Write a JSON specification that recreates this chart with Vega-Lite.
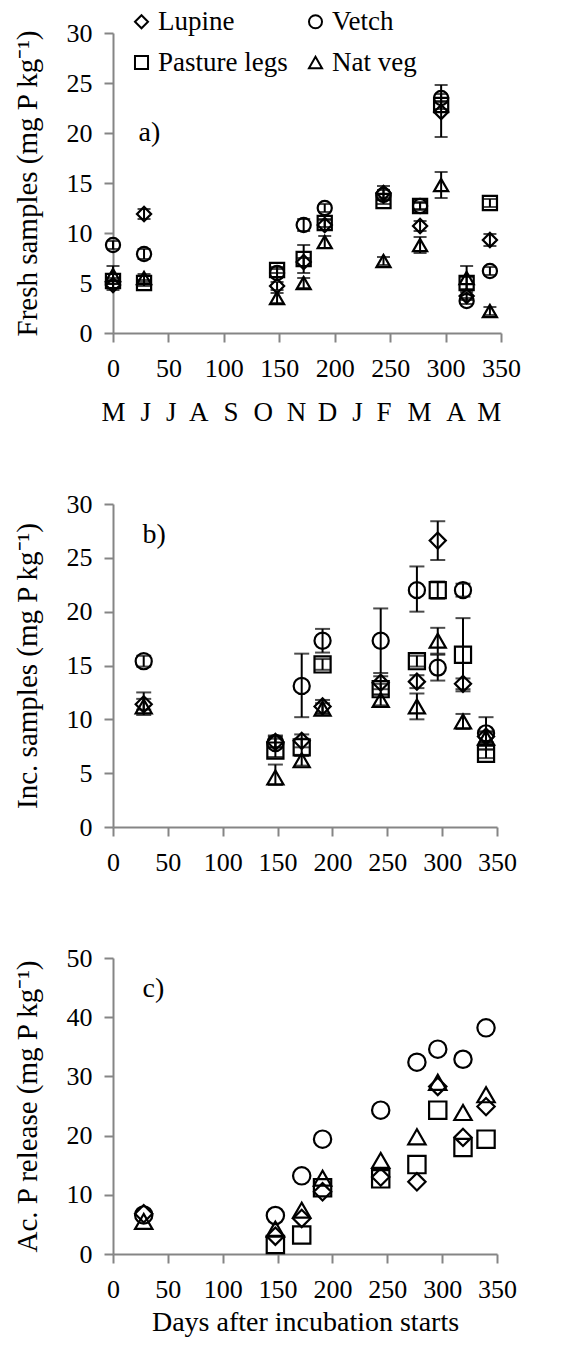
{
  "$schema": "https://vega.github.io/schema/vega-lite/v6.json",
  "background": "white",
  "padding": {"left": 12, "top": 8, "right": 8, "bottom": 8},
  "config": {
    "font": "Liberation Serif",
    "view": {"stroke": null},
    "axis": {
      "grid": false,
      "domainColor": "#858585",
      "domainWidth": 2,
      "tickColor": "#858585",
      "tickWidth": 2,
      "tickSize": 9,
      "labelFont": "Liberation Serif",
      "labelFontSize": 26,
      "labelColor": "black",
      "labelPadding": 10,
      "labelFlush": false,
      "labelOverlap": false,
      "titleFont": "Liberation Serif",
      "titleFontSize": 28,
      "titleFontWeight": "normal",
      "titleColor": "black"
    },
    "axisX": {"labelPadding": 13, "labelFont": "Liberation Serif"},
    "axisY": {"titlePadding": 24, "labelFont": "Liberation Serif", "labelPadding": 12, "titleFontSize": 29}
  },
  "datasets": {
    "a": [
      {"day": 0, "t": "Lupine", "v": 4.8, "lo": 4.3, "hi": 5.3},
      {"day": 0, "t": "Vetch", "v": 8.8, "lo": 8.4, "hi": 9.2},
      {"day": 0, "t": "Pasture legs", "v": 5.2, "lo": 4.9, "hi": 5.5},
      {"day": 0, "t": "Nat veg", "v": 5.8, "lo": 4.9, "hi": 6.7},
      {"day": 28, "t": "Lupine", "v": 11.9, "lo": 11.4, "hi": 12.4},
      {"day": 28, "t": "Vetch", "v": 7.9, "lo": 7.4, "hi": 8.4},
      {"day": 28, "t": "Pasture legs", "v": 5.0, "lo": 4.7, "hi": 5.3},
      {"day": 28, "t": "Nat veg", "v": 5.5, "lo": 5.1, "hi": 5.9},
      {"day": 148, "t": "Lupine", "v": 4.7, "lo": 4.3, "hi": 5.1},
      {"day": 148, "t": "Vetch", "v": 6.0, "lo": 5.6, "hi": 6.4},
      {"day": 148, "t": "Pasture legs", "v": 6.3, "lo": 6.0, "hi": 6.6},
      {"day": 148, "t": "Nat veg", "v": 3.5, "lo": 3.0, "hi": 4.0},
      {"day": 172, "t": "Lupine", "v": 7.1, "lo": 6.7, "hi": 7.5},
      {"day": 172, "t": "Vetch", "v": 10.8, "lo": 10.2, "hi": 11.4},
      {"day": 172, "t": "Pasture legs", "v": 7.4, "lo": 6.0, "hi": 8.8},
      {"day": 172, "t": "Nat veg", "v": 5.0, "lo": 4.5, "hi": 5.5},
      {"day": 191, "t": "Lupine", "v": 10.8, "lo": 10.3, "hi": 11.3},
      {"day": 191, "t": "Vetch", "v": 12.5, "lo": 12.1, "hi": 12.9},
      {"day": 191, "t": "Pasture legs", "v": 11.0, "lo": 10.6, "hi": 11.4},
      {"day": 191, "t": "Nat veg", "v": 9.1, "lo": 8.5, "hi": 9.7},
      {"day": 244, "t": "Lupine", "v": 14.0, "lo": 13.3, "hi": 14.7},
      {"day": 244, "t": "Vetch", "v": 13.8, "lo": 13.3, "hi": 14.3},
      {"day": 244, "t": "Pasture legs", "v": 13.2, "lo": 12.9, "hi": 13.5},
      {"day": 244, "t": "Nat veg", "v": 7.2, "lo": 6.8, "hi": 7.6},
      {"day": 277, "t": "Lupine", "v": 10.7, "lo": 10.2, "hi": 11.2},
      {"day": 277, "t": "Vetch", "v": 12.7, "lo": 12.3, "hi": 13.1},
      {"day": 277, "t": "Pasture legs", "v": 12.7, "lo": 12.4, "hi": 13.0},
      {"day": 277, "t": "Nat veg", "v": 8.8, "lo": 8.0, "hi": 9.6},
      {"day": 296, "t": "Lupine", "v": 22.1, "lo": 19.6, "hi": 24.8},
      {"day": 296, "t": "Vetch", "v": 23.5, "lo": 23.1, "hi": 23.9},
      {"day": 296, "t": "Pasture legs", "v": 22.8, "lo": 22.4, "hi": 23.2},
      {"day": 296, "t": "Nat veg", "v": 14.8, "lo": 13.5, "hi": 16.1},
      {"day": 319, "t": "Lupine", "v": 3.7, "lo": 3.3, "hi": 4.1},
      {"day": 319, "t": "Vetch", "v": 3.2, "lo": 2.9, "hi": 3.5},
      {"day": 319, "t": "Pasture legs", "v": 5.0, "lo": 4.4, "hi": 5.6},
      {"day": 319, "t": "Nat veg", "v": 5.5, "lo": 4.3, "hi": 6.7},
      {"day": 340, "t": "Lupine", "v": 9.3, "lo": 8.7, "hi": 9.9},
      {"day": 340, "t": "Vetch", "v": 6.2, "lo": 5.8, "hi": 6.6},
      {"day": 340, "t": "Pasture legs", "v": 13.0, "lo": 12.6, "hi": 13.4},
      {"day": 340, "t": "Nat veg", "v": 2.2, "lo": 1.8, "hi": 2.6}
    ],
    "b": [
      {"day": 28, "t": "Lupine", "v": 11.4, "lo": 10.9, "hi": 11.9},
      {"day": 28, "t": "Vetch", "v": 15.4, "lo": 14.9, "hi": 15.9},
      {"day": 28, "t": "Nat veg", "v": 11.2, "lo": 10.4, "hi": 12.5},
      {"day": 148, "t": "Lupine", "v": 7.9, "lo": 7.4, "hi": 8.4},
      {"day": 148, "t": "Vetch", "v": 7.8, "lo": 7.4, "hi": 8.2},
      {"day": 148, "t": "Pasture legs", "v": 7.1, "lo": 6.5, "hi": 8.5},
      {"day": 148, "t": "Nat veg", "v": 4.6, "lo": 3.9, "hi": 5.8},
      {"day": 172, "t": "Lupine", "v": 8.0, "lo": 7.4, "hi": 8.6},
      {"day": 172, "t": "Vetch", "v": 13.1, "lo": 10.2, "hi": 16.1},
      {"day": 172, "t": "Pasture legs", "v": 7.4, "lo": 6.6, "hi": 8.2},
      {"day": 172, "t": "Nat veg", "v": 6.2, "lo": 5.7, "hi": 6.7},
      {"day": 191, "t": "Lupine", "v": 11.2, "lo": 10.6, "hi": 11.8},
      {"day": 191, "t": "Vetch", "v": 17.3, "lo": 16.2, "hi": 18.4},
      {"day": 191, "t": "Pasture legs", "v": 15.1, "lo": 14.6, "hi": 15.6},
      {"day": 191, "t": "Nat veg", "v": 11.0, "lo": 10.5, "hi": 11.5},
      {"day": 244, "t": "Lupine", "v": 13.4, "lo": 12.8, "hi": 14.0},
      {"day": 244, "t": "Vetch", "v": 17.3, "lo": 14.3, "hi": 20.3},
      {"day": 244, "t": "Pasture legs", "v": 12.8, "lo": 12.3, "hi": 13.3},
      {"day": 244, "t": "Nat veg", "v": 11.8, "lo": 11.3, "hi": 12.3},
      {"day": 277, "t": "Lupine", "v": 13.5, "lo": 12.9, "hi": 14.1},
      {"day": 277, "t": "Vetch", "v": 22.0, "lo": 20.0, "hi": 24.2},
      {"day": 277, "t": "Pasture legs", "v": 15.4, "lo": 14.9, "hi": 15.9},
      {"day": 277, "t": "Nat veg", "v": 11.2, "lo": 10.0, "hi": 12.4},
      {"day": 296, "t": "Lupine", "v": 26.6, "lo": 24.8, "hi": 28.4},
      {"day": 296, "t": "Vetch", "v": 14.8, "lo": 13.6, "hi": 16.0},
      {"day": 296, "t": "Pasture legs", "v": 22.0, "lo": 21.2, "hi": 22.8},
      {"day": 296, "t": "Nat veg", "v": 17.3, "lo": 16.1, "hi": 18.5},
      {"day": 319, "t": "Lupine", "v": 13.3, "lo": 12.8, "hi": 13.8},
      {"day": 319, "t": "Vetch", "v": 22.0, "lo": 21.4, "hi": 22.6},
      {"day": 319, "t": "Pasture legs", "v": 16.0, "lo": 12.6, "hi": 19.4},
      {"day": 319, "t": "Nat veg", "v": 9.8, "lo": 9.1, "hi": 10.5},
      {"day": 340, "t": "Lupine", "v": 8.4, "lo": 7.9, "hi": 8.9},
      {"day": 340, "t": "Vetch", "v": 8.7, "lo": 7.2, "hi": 10.2},
      {"day": 340, "t": "Pasture legs", "v": 6.8, "lo": 6.4, "hi": 7.2},
      {"day": 340, "t": "Nat veg", "v": 8.3, "lo": 7.8, "hi": 8.8}
    ],
    "c": [
      {"day": 28, "t": "Lupine", "v": 6.8},
      {"day": 28, "t": "Vetch", "v": 6.6},
      {"day": 28, "t": "Nat veg", "v": 5.5},
      {"day": 148, "t": "Lupine", "v": 3.0},
      {"day": 148, "t": "Vetch", "v": 6.5},
      {"day": 148, "t": "Pasture legs", "v": 1.6},
      {"day": 148, "t": "Nat veg", "v": 4.2},
      {"day": 172, "t": "Lupine", "v": 6.0},
      {"day": 172, "t": "Vetch", "v": 13.2},
      {"day": 172, "t": "Pasture legs", "v": 3.2},
      {"day": 172, "t": "Nat veg", "v": 7.4},
      {"day": 191, "t": "Lupine", "v": 10.5},
      {"day": 191, "t": "Vetch", "v": 19.4},
      {"day": 191, "t": "Pasture legs", "v": 11.2},
      {"day": 191, "t": "Nat veg", "v": 12.8},
      {"day": 244, "t": "Lupine", "v": 13.0},
      {"day": 244, "t": "Vetch", "v": 24.3},
      {"day": 244, "t": "Pasture legs", "v": 12.7},
      {"day": 244, "t": "Nat veg", "v": 15.8},
      {"day": 277, "t": "Lupine", "v": 12.2},
      {"day": 277, "t": "Vetch", "v": 32.4},
      {"day": 277, "t": "Pasture legs", "v": 15.1},
      {"day": 277, "t": "Nat veg", "v": 19.8},
      {"day": 296, "t": "Lupine", "v": 28.3},
      {"day": 296, "t": "Vetch", "v": 34.6},
      {"day": 296, "t": "Pasture legs", "v": 24.3},
      {"day": 296, "t": "Nat veg", "v": 29.0},
      {"day": 319, "t": "Lupine", "v": 19.7},
      {"day": 319, "t": "Vetch", "v": 32.9},
      {"day": 319, "t": "Pasture legs", "v": 18.0},
      {"day": 319, "t": "Nat veg", "v": 23.9},
      {"day": 340, "t": "Lupine", "v": 24.9},
      {"day": 340, "t": "Vetch", "v": 38.2},
      {"day": 340, "t": "Pasture legs", "v": 19.4},
      {"day": 340, "t": "Nat veg", "v": 26.9}
    ],
    "months": [
      {"day": 0, "m": "M"}, {"day": 29, "m": "J"}, {"day": 52, "m": "J"},
      {"day": 77, "m": "A"}, {"day": 106, "m": "S"}, {"day": 135, "m": "O"},
      {"day": 165, "m": "N"}, {"day": 193, "m": "D"}, {"day": 220, "m": "J"},
      {"day": 244, "m": "F"}, {"day": 276, "m": "M"}, {"day": 309, "m": "A"},
      {"day": 339, "m": "M"}
    ]
  },
  "resolve": {"scale": {"shape": "independent"}},
  "bounds": "flush",
  "spacing": 171,
  "vconcat": [
    {
      "width": 388,
      "height": 300,
      "resolve": {"axis": {"x": "independent"}},
      "layer": [
        {
          "layer": [
            {
              "data": {"name": "a"},
              "mark": {"type": "rule", "color": "black", "strokeWidth": 2},
              "encoding": {
                "x": {"field": "day", "type": "quantitative", "scale": {"domain": [0, 350], "nice": false},
                  "axis": {"orient": "bottom", "title": null, "values": [0, 50, 100, 150, 200, 250, 300, 350]}},
                "y": {"field": "lo", "type": "quantitative", "scale": {"domain": [0, 30], "nice": false},
                  "axis": {"title": "Fresh samples (mg P kg⁻¹)", "values": [0, 5, 10, 15, 20, 25, 30]}},
                "y2": {"field": "hi"}
              }
            },
            {
              "data": {"name": "a"},
              "mark": {"type": "tick", "orient": "horizontal", "color": "black", "thickness": 2, "size": 13},
              "encoding": {
                "x": {"field": "day", "type": "quantitative"},
                "y": {"field": "lo", "type": "quantitative"}
              }
            },
            {
              "data": {"name": "a"},
              "mark": {"type": "tick", "orient": "horizontal", "color": "black", "thickness": 2, "size": 13},
              "encoding": {
                "x": {"field": "day", "type": "quantitative"},
                "y": {"field": "hi", "type": "quantitative"}
              }
            },
            {
              "data": {"name": "a"},
              "mark": {"type": "point", "filled": false, "color": "black", "strokeWidth": 2.2, "size": 200, "opacity": 1},
              "encoding": {
                "x": {"field": "day", "type": "quantitative"},
                "y": {"field": "v", "type": "quantitative"},
                "shape": {"field": "t", "type": "nominal",
                  "scale": {"domain": ["Lupine", "Vetch", "Pasture legs", "Nat veg"], "range": ["diamond", "circle", "square", "triangle-up"]},
                  "legend": {"orient": "none", "legendX": 15, "legendY": -25, "columns": 2, "direction": "horizontal",
                    "title": null, "labelFont": "Liberation Serif", "labelFontSize": 27, "labelColor": "black",
                    "symbolSize": 170, "symbolStrokeWidth": 2, "symbolStrokeColor": "black", "symbolFillColor": "transparent",
                    "columnPadding": 14, "rowPadding": 13, "labelOffset": 3}}
              }
            },
            {
              "data": {"values": [{"label": "a)"}]},
              "mark": {"type": "text", "align": "left", "baseline": "middle", "fontSize": 28, "font": "Liberation Serif", "color": "black"},
              "encoding": {"x": {"datum": 23}, "y": {"datum": 20}, "text": {"field": "label"}}
            }
          ]
        },
        {
          "data": {"name": "months"},
          "mark": {"type": "point", "opacity": 0},
          "encoding": {
            "x": {"field": "day", "type": "quantitative",
              "axis": {"orient": "bottom", "title": null, "domain": false, "ticks": false, "tickSize": 0,
                "values": [0, 29, 52, 77, 106, 135, 165, 193, 220, 244, 276, 309, 339],
                "labelExpr": "['M','J','J','A','S','O','N','D','J','F','M','A','M'][indexof([0,29,52,77,106,135,165,193,220,244,276,309,339], datum.value)]",
                "labelPadding": 66, "labelFontSize": 27}}
          }
        }
      ]
    },
    {
      "bounds": "flush",
      "spacing": 131,
      "vconcat": [
        {
          "width": 384,
          "height": 323,
          "layer": [
            {
              "data": {"name": "b"},
              "mark": {"type": "rule", "color": "black", "strokeWidth": 2},
              "encoding": {
                "x": {"field": "day", "type": "quantitative", "scale": {"domain": [0, 350], "nice": false},
                  "axis": {"title": null, "values": [0, 50, 100, 150, 200, 250, 300, 350]}},
                "y": {"field": "lo", "type": "quantitative", "scale": {"domain": [0, 30], "nice": false},
                  "axis": {"title": "Inc. samples (mg P kg⁻¹)", "values": [0, 5, 10, 15, 20, 25, 30]}},
                "y2": {"field": "hi"}
              }
            },
            {
              "data": {"name": "b"},
              "mark": {"type": "tick", "orient": "horizontal", "color": "black", "thickness": 2, "size": 15},
              "encoding": {
                "x": {"field": "day", "type": "quantitative"},
                "y": {"field": "lo", "type": "quantitative"}
              }
            },
            {
              "data": {"name": "b"},
              "mark": {"type": "tick", "orient": "horizontal", "color": "black", "thickness": 2, "size": 15},
              "encoding": {
                "x": {"field": "day", "type": "quantitative"},
                "y": {"field": "hi", "type": "quantitative"}
              }
            },
            {
              "data": {"name": "b"},
              "mark": {"type": "point", "filled": false, "color": "black", "strokeWidth": 2.2, "size": 260, "opacity": 1},
              "encoding": {
                "x": {"field": "day", "type": "quantitative"},
                "y": {"field": "v", "type": "quantitative"},
                "shape": {"field": "t", "type": "nominal",
                  "scale": {"domain": ["Lupine", "Vetch", "Pasture legs", "Nat veg"], "range": ["diamond", "circle", "square", "triangle-up"]},
                  "legend": null}
              }
            },
            {
              "data": {"values": [{"label": "b)"}]},
              "mark": {"type": "text", "align": "left", "baseline": "middle", "fontSize": 28, "font": "Liberation Serif", "color": "black"},
              "encoding": {"x": {"datum": 27}, "y": {"datum": 27.1}, "text": {"field": "label"}}
            }
          ]
        },
        {
          "width": 384,
          "height": 296,
          "layer": [
            {
              "data": {"name": "c"},
              "mark": {"type": "point", "filled": false, "color": "black", "strokeWidth": 2.2, "size": 300, "opacity": 1},
              "encoding": {
                "x": {"field": "day", "type": "quantitative", "scale": {"domain": [0, 350], "nice": false},
                  "axis": {"title": "Days after incubation starts", "titlePadding": 6, "values": [0, 50, 100, 150, 200, 250, 300, 350]}},
                "y": {"field": "v", "type": "quantitative", "scale": {"domain": [0, 50], "nice": false},
                  "axis": {"title": "Ac. P release (mg P kg⁻¹)", "values": [0, 10, 20, 30, 40, 50]}},
                "shape": {"field": "t", "type": "nominal",
                  "scale": {"domain": ["Lupine", "Vetch", "Pasture legs", "Nat veg"], "range": ["diamond", "circle", "square", "triangle-up"]},
                  "legend": null}
              }
            },
            {
              "data": {"values": [{"label": "c)"}]},
              "mark": {"type": "text", "align": "left", "baseline": "middle", "fontSize": 28, "font": "Liberation Serif", "color": "black"},
              "encoding": {"x": {"datum": 27}, "y": {"datum": 44.8}, "text": {"field": "label"}}
            }
          ]
        }
      ]
    }
  ]
}
